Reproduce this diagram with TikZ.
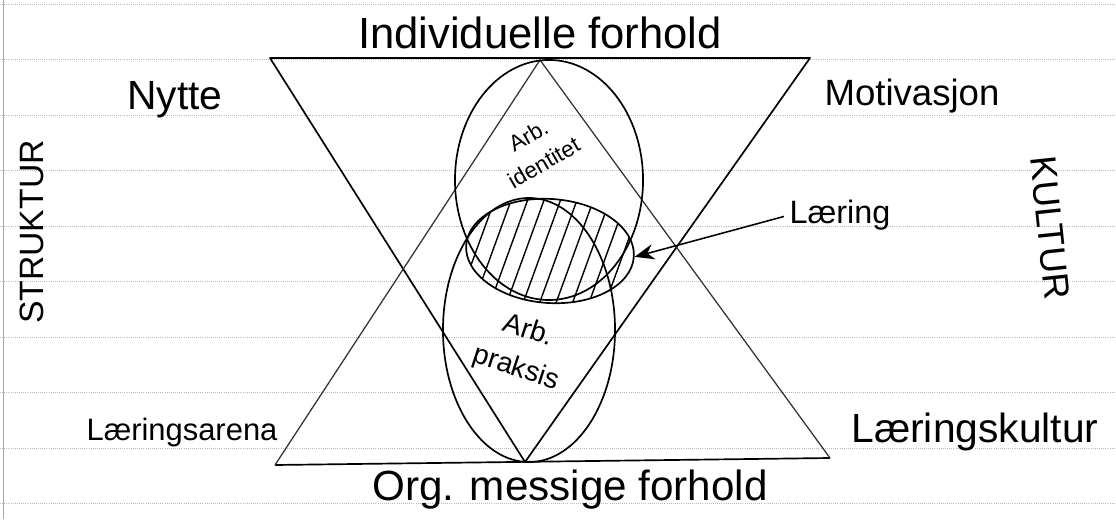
\documentclass[tikz,border=0pt]{standalone}
\usepackage{fontspec}
\setmainfont{Liberation Sans}
\usetikzlibrary{shapes.geometric, arrows.meta, positioning, patterns.meta}

\begin{document}
\begin{tikzpicture}[x=0.025cm, y=-0.025cm, >={Stealth[length=14pt, width=11pt]},
  ruling/.style={gray!55, densely dotted, line width=0.5pt},
  edge/.style={line width=1.2pt, line join=round},
  thinedge/.style={black!80, line width=0.9pt},
  oval/.style={draw, ellipse, line width=1.2pt, inner sep=0pt},
  txt/.style={inner sep=0pt, font=\fontsize{26}{30}\selectfont}]
  \useasboundingbox (0,0) rectangle (1116,519);
  % linjert papir
  \foreach \k in {0,...,9}
    \draw[ruling] (0,{4+55.5*\k}) -- (1116,{4+55.5*\k});
  \draw[gray!70, line width=0.6pt] (3,0) -- (3,519);

  % trekanter
  \coordinate (nedV) at (270,58);
  \coordinate (nedH) at (810,58);
  \coordinate (nedB) at (525,462);
  \coordinate (oppV) at (275,465);
  \coordinate (oppH) at (830,458);
  \coordinate (oppT) at (540,60);
  \draw[edge] (nedV) -- (nedH) -- (nedB) -- cycle;
  \draw[edge] (oppV) -- (oppH);
  \draw[thinedge] (oppH) -- (oppT) -- (oppV);

  % ovaler
  \node[oval, minimum width=4.7cm, minimum height=6cm] (ident) at (549,180) {};
  \node[oval, minimum width=4.3cm, minimum height=6.6cm] (praks) at (529,330) {};
  \node[oval, minimum width=4.2cm, minimum height=2.6cm, rotate=-4,
    pattern={Lines[angle=70, distance=11pt, line width=1pt]}] (laering) at (550,251) {};

  % tekster
  \node[txt, font=\fontsize{31}{34}\selectfont] (indiv) at (540,33) {Individuelle forhold};
  \node[txt, font=\fontsize{30}{34}\selectfont] (orgm) at (570,490) {Org. messige forhold};
  \node[txt, font=\fontsize{29}{34}\selectfont] (nytte) at (175,100) {Nytte};
  \node[txt] (motiv) at (912,96) {Motivasjon};
  \node[txt, font=\fontsize{24}{28}\selectfont, rotate=90] (struktur) at (32,232) {STRUKTUR};
  \node[txt, rotate=-84] (kultur) at (1050,228) {KULTUR};
  \node[txt, font=\fontsize{23}{28}\selectfont] (laeringtxt) at (840,215) {Læring};
  \node[txt, font=\fontsize{22}{28}\selectfont] (arena) at (182,432) {Læringsarena};
  \node[txt, font=\fontsize{29}{34}\selectfont] (lkultur) at (975,432) {Læringskultur};
  \node[txt, font=\fontsize{16}{22}\selectfont, rotate=30, align=center] (arbid) at (536,149) {Arb.\\identitet};
  \node[txt, font=\fontsize{20}{28}\selectfont, rotate=-18, align=center] (arbpr) at (522,350) {Arb.\\praksis};

  \draw[->, line width=1.1pt, shorten <=4pt] (laeringtxt.west) -- (laering.east);
\end{tikzpicture}
\end{document}
